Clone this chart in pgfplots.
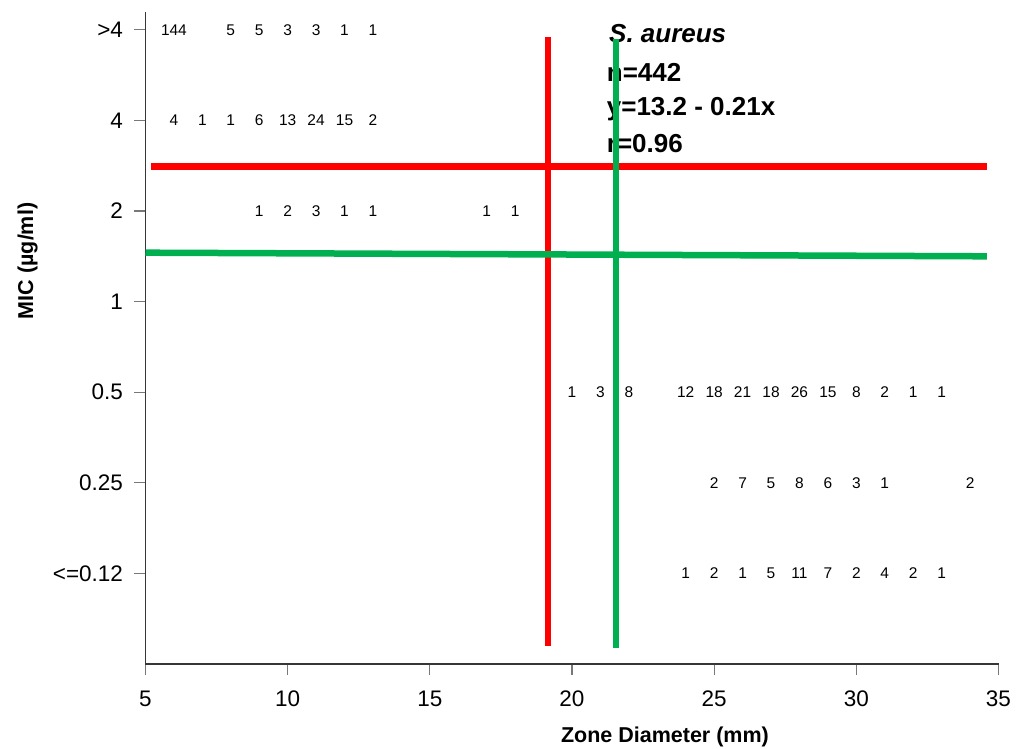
\documentclass[border=0pt]{standalone}
\usepackage{fontspec}
\setmainfont{Liberation Sans}
\usepackage{pgfplots}
\usepackage{pgfplotstable}
\pgfplotsset{compat=1.18}

\definecolor{cutred}{RGB}{255,0,0}
\definecolor{cutgreen}{RGB}{0,176,80}
\definecolor{spine}{RGB}{55,55,55}
\definecolor{tickgray}{RGB}{120,120,120}

% isolate counts: zone diameter (mm), MIC row index (0 = <=0.12 ... 6 = >4), count
\pgfplotstableread{
x  y  n
6  6  144
8  6  5
9  6  5
10 6  3
11 6  3
12 6  1
13 6  1
6  5  4
7  5  1
8  5  1
9  5  6
10 5  13
11 5  24
12 5  15
13 5  2
9  4  1
10 4  2
11 4  3
12 4  1
13 4  1
17 4  1
18 4  1
20 2  1
21 2  3
22 2  8
24 2  12
25 2  18
26 2  21
27 2  18
28 2  26
29 2  15
30 2  8
31 2  2
32 2  1
33 2  1
25 1  2
26 1  7
27 1  5
28 1  8
29 1  6
30 1  3
31 1  1
34 1  2
24 0  1
25 0  2
26 0  1
27 0  5
28 0  11
29 0  7
30 0  2
31 0  4
32 0  2
33 0  1
}\countdata

\begin{document}
\begin{tikzpicture}
\path[use as bounding box] (-145.5pt,-85pt) rectangle (880.5pt,664pt);
\begin{axis}[
  scale only axis, width=853pt, height=652.3pt,
  xmin=5, xmax=35, ymin=-1, ymax=6.2,
  axis x line=bottom, axis y line=left,
  axis line style={-, line width=1.3pt, color=spine},
  tick align=outside, major tick length=11pt,
  tick style={line width=1.2pt, color=tickgray},
  xtick={5,10,...,35}, xticklabels={5,10,15,20,25,30,35},
  ytick={0,1,2,3,4,5,6}, yticklabels={{<=0.12},0.25,0.5,1,2,4,{>4}},
  ticklabel style={font=\fontsize{22.5}{26}\selectfont, text=black},
  xticklabel style={yshift=-12pt},
  yticklabel style={xshift=-8pt},
  xlabel={\textbf{Zone Diameter (mm)}},
  ylabel={\textbf{MIC (µg/ml)}},
  every axis x label/.style={at={(axis description cs:0.609,0)}, anchor=center, yshift=-73pt, font=\fontsize{21.5}{24}\selectfont},
  every axis y label/.style={at={(axis description cs:0,0.618)}, anchor=center, xshift=-118pt, rotate=90, font=\fontsize{21.5}{24}\selectfont},
  clip=false,
]

% breakpoint lines (red)
\addplot[cutred, line width=6.5pt, line cap=butt] coordinates {(5.19,4.49) (34.59,4.49)};
\addplot[cutred, line width=6.5pt, line cap=butt] coordinates {(19.15,-0.80) (19.15,5.92)};

% counts per zone diameter / MIC cell
\addplot[draw=none, mark=none, nodes near coords, point meta=explicit symbolic,
  every node near coord/.append style={anchor=center, inner sep=0pt, font=\fontsize{15.5}{18}\selectfont, text=black}]
  table[x=x, y=y, meta=n] {\countdata};

% regression summary
\node[anchor=west, inner sep=0pt, font=\fontsize{26}{30}\selectfont\bfseries] at (axis cs:21.30,5.96) {\textit{S. aureus}};
\node[anchor=west, inner sep=0pt, font=\fontsize{26}{30}\selectfont\bfseries] at (axis cs:21.22,5.53) {n=442};
\node[anchor=west, inner sep=0pt, font=\fontsize{26}{30}\selectfont\bfseries] at (axis cs:21.22,5.13) {y=13.2 - 0.21x};
\node[anchor=west, inner sep=0pt, font=\fontsize{26}{30}\selectfont\bfseries] at (axis cs:21.22,4.75) {r=0.96};

% breakpoint lines (green)
\addplot[cutgreen, line width=6.5pt, line cap=butt] coordinates {(5.0,3.54) (34.59,3.50)};
\addplot[cutgreen, line width=6.5pt, line cap=butt] coordinates {(21.54,-0.82) (21.54,5.90)};
\end{axis}
\end{tikzpicture}
\end{document}
